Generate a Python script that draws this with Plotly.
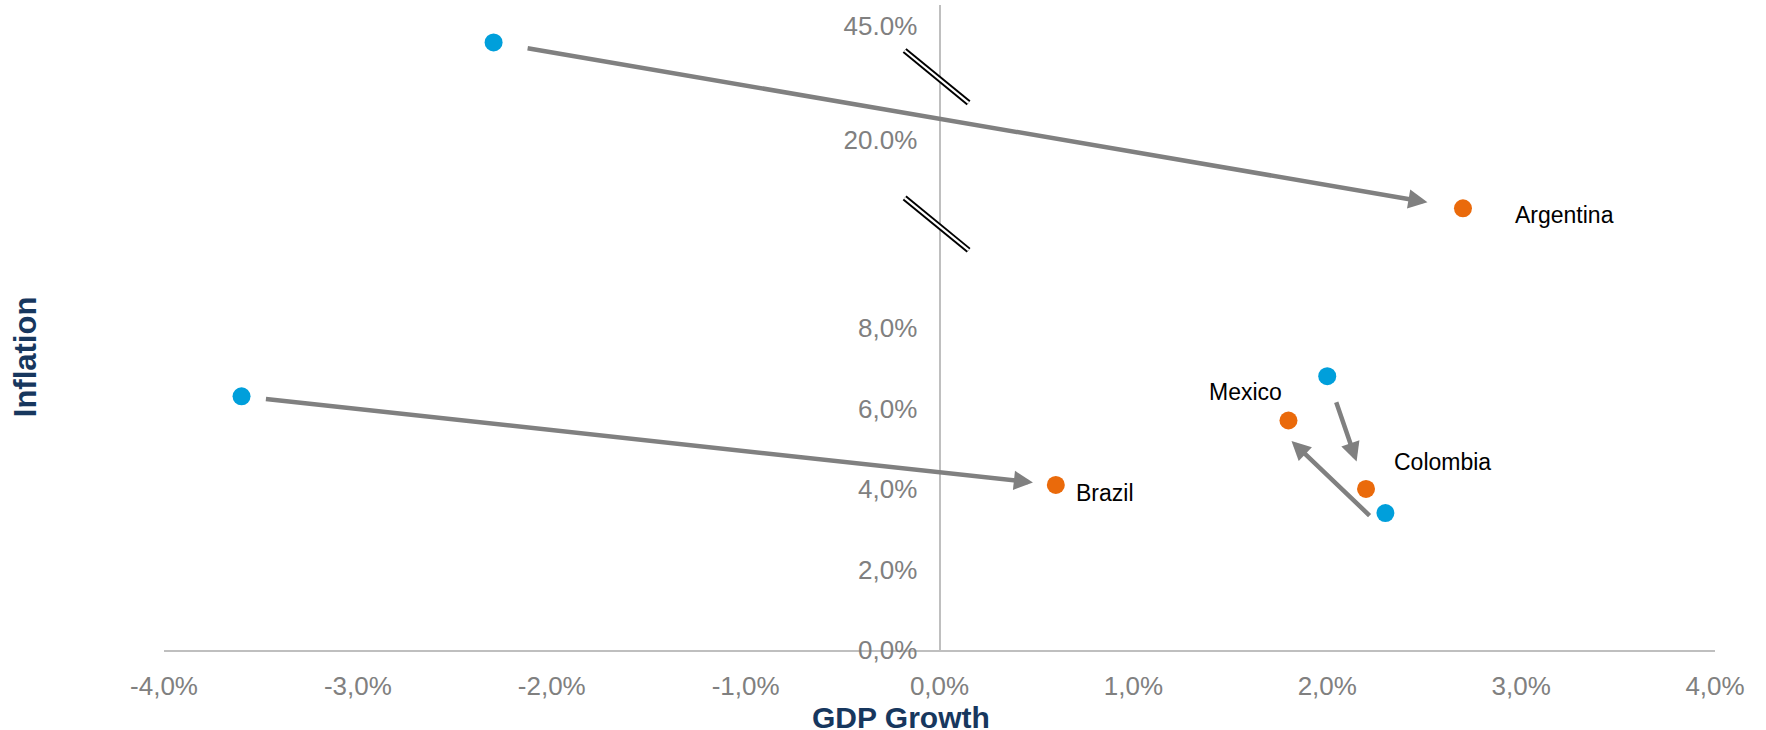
import plotly.graph_objects as go

# GDP growth (%) and inflation (%) per country: 2016 outcome vs 2017 outlook
countries = ["Argentina", "Brazil", "Mexico", "Colombia"]
gdp_2016 = [-2.3, -3.6, 2.3, 2.0]
infl_2016 = [44.6, 6.3, 3.4, 6.8]
gdp_2017 = [2.7, 0.6, 1.8, 2.2]
infl_2017 = [18.3, 4.1, 5.7, 4.0]

x_ticks = [-4, -3, -2, -1, 0, 1, 2, 3, 4]
x_tick_labels = ["-4,0%", "-3,0%", "-2,0%", "-1,0%", "0,0%", "1,0%", "2,0%", "3,0%", "4,0%"]
y_ticks = [0, 2, 4, 6, 8, 20, 45]
y_tick_labels = ["0,0%", "2,0%", "4,0%", "6,0%", "8,0%", "20.0%", "45.0%"]

# Broken inflation axis: each segment keeps one display unit per percentage
# point and is pinned so that its anchor value sits at a given display height.
SEGMENTS = [  # (lowest value in segment, anchor value, display height of anchor)
    (0.0, 0.0, 0.0),
    (15.0, 20.0, 12.67),
    (35.0, 45.0, 15.49),
]
BREAKS = [10.58, 14.24]  # display heights where the axis is cut
Y_TOP = 16.02


def to_display(v):
    for lo, anchor, pos in reversed(SEGMENTS):
        if v >= lo:
            return pos + (v - anchor)
    return v


BLUE = "#009fdb"
ORANGE = "#ea6a0b"
GREY = "#808080"
AXIS = "#bfbfbf"
NAVY = "#17375e"
FONT = "Liberation Sans, Arial, sans-serif"

y16 = [to_display(v) for v in infl_2016]
y17 = [to_display(v) for v in infl_2017]

fig = go.Figure()
fig.add_trace(go.Scatter(x=gdp_2016, y=y16, mode="markers", name="2016",
                         marker=dict(size=18, color=BLUE), text=countries))
fig.add_trace(go.Scatter(x=gdp_2017, y=y17, mode="markers", name="2017",
                         marker=dict(size=18, color=ORANGE), text=countries))

# arrows from the 2016 position to the 2017 position
# (gap at tail, gap at head, pixel nudge x, pixel nudge y)
arrow_style = {"Argentina": (33, 36, 0, 0), "Brazil": (23, 23, 0, 0),
               "Mexico": (6, 18, -10, -8), "Colombia": (26, 29, 0, 0)}
for i, c in enumerate(countries):
    start_gap, end_gap, sx, sy = arrow_style[c]
    fig.add_annotation(x=gdp_2017[i], y=y17[i], ax=gdp_2016[i], ay=y16[i],
                       xref="x", yref="y", axref="x", ayref="y",
                       text="", showarrow=True, arrowhead=2, arrowsize=0.85,
                       arrowwidth=4.5, arrowcolor=GREY,
                       standoff=end_gap, startstandoff=start_gap,
                       xshift=sx, yshift=sy)

# country names next to the 2017 markers
label_pos = {"Argentina": ("left", 50, -7), "Brazil": ("left", 18, -8),
             "Mexico": ("right", -4, 29), "Colombia": ("left", 26, 27)}
for i, c in enumerate(countries):
    anchor, dx, dy = label_pos[c]
    fig.add_annotation(x=gdp_2017[i], y=y17[i], text=c, showarrow=False,
                       xanchor=anchor, yanchor="middle", xshift=dx, yshift=dy,
                       font=dict(family=FONT, size=23, color="#000000"))

# axis-break marks: two thin black strokes drawn as a thick black line with a white core
for b in BREAKS:
    for color, width in (("#000000", 6), ("#ffffff", 2.2)):
        fig.add_shape(type="line", xref="x", yref="y",
                      x0=-0.18, y0=b + 0.65, x1=0.15, y1=b - 0.65,
                      line=dict(color=color, width=width))

# axis titles
fig.add_annotation(text="<b>GDP Growth</b>", xref="paper", yref="paper",
                   x=0.475, y=-0.104, xanchor="center", yanchor="middle",
                   showarrow=False, font=dict(family=FONT, size=30, color=NAVY))
fig.add_annotation(text="<b>Inflation</b>", xref="paper", yref="paper",
                   x=-0.0896, y=0.454, xanchor="center", yanchor="middle",
                   textangle=-90, showarrow=False,
                   font=dict(family=FONT, size=31, color=NAVY))

fig.update_layout(
    width=1766, height=730,
    margin=dict(l=164, r=51, t=5, b=80),
    paper_bgcolor="white", plot_bgcolor="white",
    showlegend=False,
    font=dict(family=FONT),
    xaxis=dict(range=[-4, 4], tickvals=x_ticks, ticktext=x_tick_labels,
               showgrid=False, zeroline=False, showline=True,
               linecolor=AXIS, linewidth=2, ticks="",
               ticklabelstandoff=12,
               tickfont=dict(family=FONT, size=26, color=GREY)),
    yaxis=dict(range=[0, Y_TOP], tickvals=[to_display(v) for v in y_ticks],
               ticktext=y_tick_labels, anchor="free", position=0.5,
               showgrid=False, zeroline=False, showline=True,
               linecolor=AXIS, linewidth=2, ticks="",
               ticklabelstandoff=16,
               tickfont=dict(family=FONT, size=26, color=GREY)),
)

fig.write_html("out.html")
